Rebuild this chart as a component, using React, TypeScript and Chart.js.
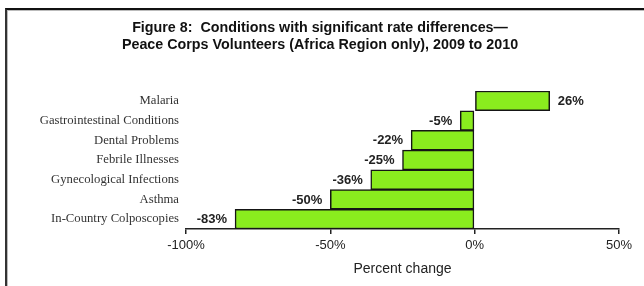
import React, { useEffect, useRef } from "react";
import { Chart, registerables } from "chart.js";

Chart.register(...registerables);

const categories = [
  "Malaria",
  "Gastrointestinal Conditions",
  "Dental Problems",
  "Febrile Illnesses",
  "Gynecological Infections",
  "Asthma",
  "In-Country Colposcopies",
];
const percentChange = [26, -5, -22, -25, -36, -50, -83];
const titleLines = [
  "Figure 8:  Conditions with significant rate differences\u2014",
  "Peace Corps Volunteers (Africa Region only), 2009 to 2010",
];
const xTicks = [-100, -50, 0, 50];
const xAxisTitle = "Percent change";

const valueLabels = {
  id: "valueLabels",
  afterDatasetsDraw(chart: any) {
    const ctx = chart.ctx;
    const meta = chart.getDatasetMeta(0);
    ctx.save();
    ctx.font = "bold 13px 'Liberation Sans', Arial, sans-serif";
    ctx.fillStyle = "#222";
    ctx.textBaseline = "middle";
    meta.data.forEach((bar: any, i: number) => {
      const v = percentChange[i];
      const txt = `${v}%`;
      if (v < 0) {
        ctx.textAlign = "right";
        ctx.fillText(txt, bar.x - 8, bar.y + 0.5);
      } else {
        ctx.textAlign = "left";
        ctx.fillText(txt, bar.x + 8, bar.y + 1);
      }
    });
    ctx.restore();
  },
};

const figureTitle = {
  id: "figureTitle",
  afterDraw(chart: any) {
    const ctx = chart.ctx;
    ctx.save();
    ctx.font = "bold 14.3px 'Liberation Sans', Arial, sans-serif";
    ctx.fillStyle = "#111";
    ctx.textAlign = "center";
    ctx.textBaseline = "middle";
    ctx.fillText(titleLines[0], 320, 28);
    ctx.fillText(titleLines[1], 320, 45);
    ctx.restore();
  },
};

export default function App() {
  const ref = useRef<HTMLCanvasElement | null>(null);
  useEffect(() => {
    if (!ref.current) return;
    const chart = new Chart(ref.current, {
      type: "bar",
      data: {
        labels: categories,
        datasets: [
          {
            data: percentChange,
            backgroundColor: "#8AEC1E",
            borderColor: "#151515",
            borderWidth: 1.5,
            borderSkipped: false,
            barPercentage: 1,
            categoryPercentage: 1,
          },
        ],
      },
      options: {
        indexAxis: "y",
        responsive: false,
        animation: false,
        layout: { padding: { left: 0, right: 25, top: 91, bottom: 0 } },
        plugins: {
          legend: { display: false },
          tooltip: { enabled: false },
          title: { display: false },
        },
        scales: {
          x: {
            type: "linear",
            min: -100,
            max: 50,
            afterBuildTicks(scale: any) {
              scale.ticks = xTicks.map((v) => ({ value: v }));
            },
            afterFit(scale: any) {
              scale.height = 57;
            },
            ticks: {
              color: "#222",
              padding: 4,
              font: { family: "'Liberation Sans', Arial, sans-serif", size: 13 },
              callback: (v: any) => `${v}%`,
            },
            grid: {
              drawOnChartArea: false,
              drawTicks: true,
              tickLength: 5,
              color: "#222",
              lineWidth: 1.5,
            },
            border: { display: true, color: "#222", width: 1.5 },
            title: {
              display: true,
              text: xAxisTitle,
              color: "#222",
              font: { family: "'Liberation Sans', Arial, sans-serif", size: 14 },
              padding: { top: 4, bottom: 8 },
            },
          },
          y: {
            afterFit(scale: any) {
              scale.width = 186;
            },
            grid: { display: false, drawTicks: false },
            border: { display: false },
            ticks: {
              color: "#333",
              padding: 7,
              font: { family: "'Liberation Serif', 'Times New Roman', serif", size: 12.7 },
            },
          },
        },
      },
      plugins: [valueLabels, figureTitle],
    });
    return () => chart.destroy();
  }, []);

  return (
    <div style={{ position: "fixed", left: 0, top: 0, width: 644, height: 286, background: "#fff", overflow: "hidden" }}>
      <div
        style={{
          position: "absolute",
          left: 5,
          top: 8,
          width: 650,
          height: 290,
          borderTop: "2px solid #111",
          borderLeft: "2px solid #333",
          boxShadow: "inset 1px 1px 0 #bbb",
        }}
      />
      <canvas ref={ref} width={644} height={286} style={{ position: "absolute", left: 0, top: 0, display: "block" }} />
    </div>
  );
}
